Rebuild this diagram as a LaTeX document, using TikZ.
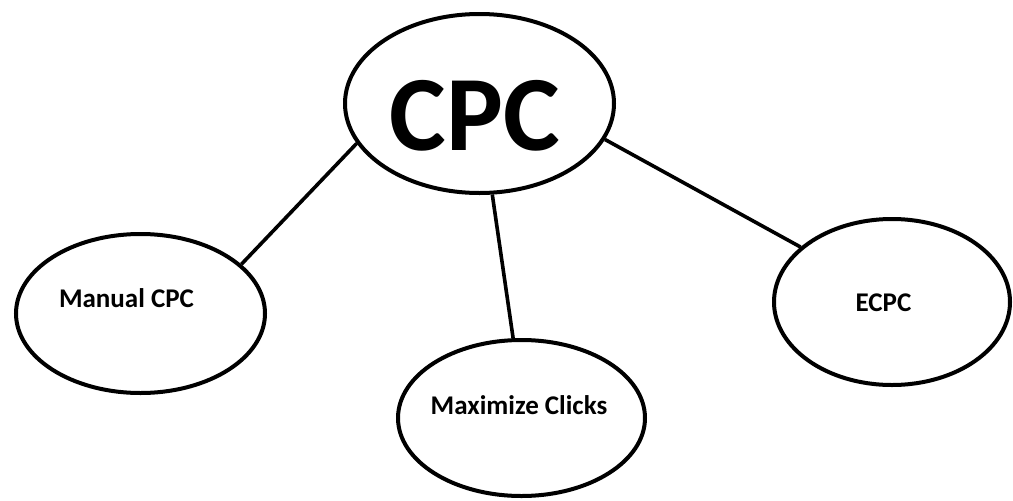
\documentclass[tikz,border=0pt]{standalone}
\usepackage{fontspec}
\setmainfont{Carlito}
\usetikzlibrary{shapes.geometric}
\tikzset{
  oval/.style={ellipse, draw=black, line width=4pt, inner sep=0pt, fill=white},
  link/.style={draw=black, line width=3.6pt},
  lbl/.style={inner sep=0pt, anchor=base, font=\bfseries\fontsize{27}{30}\selectfont},
}
\begin{document}
\begin{tikzpicture}[x=1pt,y=-1pt]
\fill[white] (0,0) rectangle (1013,501);
\useasboundingbox (0,0) rectangle (1013,501);
\node[oval, minimum width=269pt, minimum height=179pt] (cpc) at (479.5,103.5) {};
\node[oval, minimum width=249pt, minimum height=159pt] (manual) at (140.5,313.5) {};
\node[oval, minimum width=247pt, minimum height=156pt] (maxc) at (521.5,418) {};
\node[oval, minimum width=236pt, minimum height=166pt] (ecpc) at (892,302) {};
\draw[link] (cpc.198.4) -- (manual.26.7);
\draw[link] (cpc.278.4) -- (maxc.96.8);
\draw[link] (cpc.344.9) -- (ecpc.149);
\node[lbl, font=\bfseries\fontsize{107}{110}\selectfont] (tcpc) at (475,150) {CPC};
\node[lbl] (tmanual) at (126.5,307) {Manual CPC};
\node[lbl] (tmaxc) at (519,414) {Maximize Clicks};
\node[lbl] (tecpc) at (883.5,311) {ECPC};
\end{tikzpicture}
\end{document}
